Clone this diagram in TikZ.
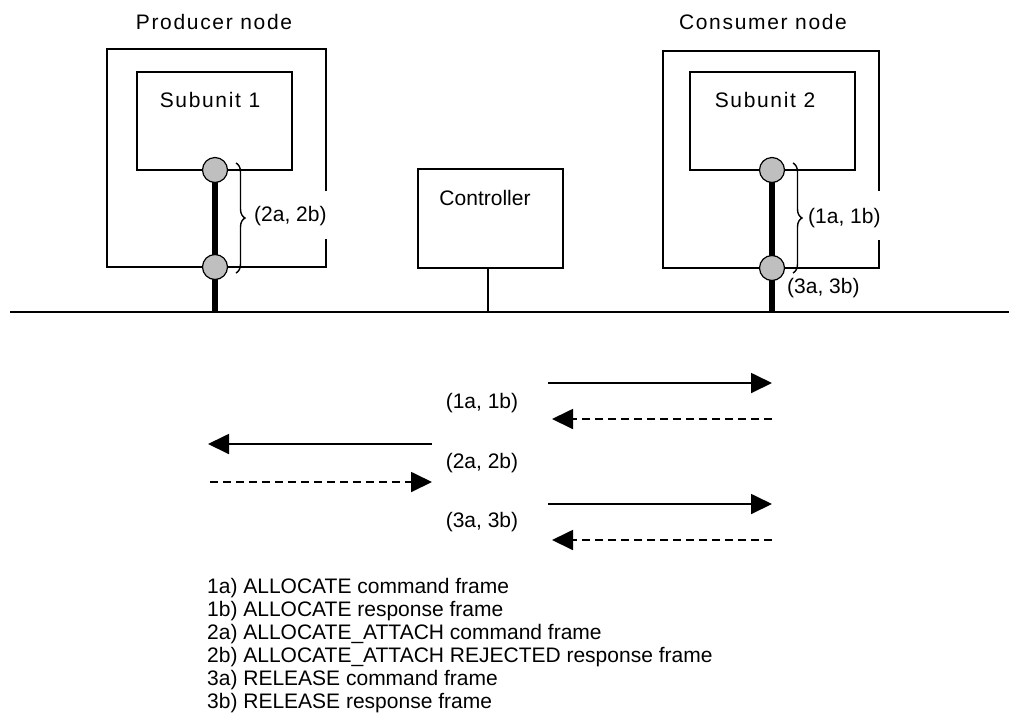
\documentclass[tikz,border=0pt]{standalone}
\usepackage{fontspec}
\setmainfont{Liberation Sans}
\newfontfamily\thinfont[LetterSpace=8]{Liberation Sans}
\usetikzlibrary{arrows.meta,decorations.pathreplacing}
\begin{document}
\begin{tikzpicture}[x=1pt,y=-1pt,
  thin line/.style={line width=1.5pt},
  port/.style={circle,draw,line width=1.2pt,fill=black!25,minimum size=25pt,inner sep=0pt},
  thick conn/.style={line width=6pt},
  title/.style={font=\thinfont\fontsize{21}{24}\selectfont,inner sep=0pt},
  lbl/.style={font=\fontsize{21}{24}\selectfont,inner sep=0pt},
  msg/.style={line width=1.8pt,-{Triangle[length=21pt,width=20pt]}},
  msgd/.style={msg,dash pattern=on 8pt off 5pt},
  brace/.style={decorate,decoration={brace,amplitude=9pt,aspect=0.5},line width=1.4pt}]
\useasboundingbox (0,0) rectangle (1009,721);
% titles
\node[title] (ptitle) at (214,22) {Producer node};
\node[title] (ctitle) at (763,22) {Consumer node};
% outer boxes with gaps on right side
\draw[thin line] (326,191) -- (326,49) -- (107,49) -- (107,267) -- (326,267) -- (326,239);
\draw[thin line] (879,191) -- (879,51) -- (663,51) -- (663,268) -- (879,268) -- (879,240);
% subunits
\node[draw,thin line,minimum width=155pt,minimum height=98pt,inner sep=0pt] (sub1) at (214.5,121) {};
\node[title] (s1) at (210,100) {Subunit 1};
\node[draw,thin line,minimum width=165pt,minimum height=98pt,inner sep=0pt] (sub2) at (772.5,121) {};
\node[title] (s2) at (765,100) {Subunit 2};
% controller
\node[draw,thin line,minimum width=145pt,minimum height=99pt,inner sep=0pt] (ctl) at (490.5,218.5) {};
\node[lbl] (ctltext) at (485,198) {Controller};
% bus
\coordinate (busL) at (10,312);
\coordinate (busR) at (1009,312);
\draw[line width=2pt] (busL) -- (busR);
\coordinate (busP) at (215,312);
\coordinate (busC) at (772,312);
\coordinate (busCtl) at (488,312);
\coordinate (ctlfoot) at (488,268);
\draw[line width=1.6pt] (ctlfoot) -- (busCtl);
% ports
\coordinate (p1c) at (215,170);
\coordinate (p2c) at (215,267);
\coordinate (c1c) at (772,170);
\coordinate (c2c) at (772,268);
\draw[thick conn] (p1c) -- (p2c) -- (busP);
\draw[thick conn] (c1c) -- (c2c) -- (busC);
\node[port] (p1) at (p1c) {};
\node[port] (p2) at (p2c) {};
\node[port] (c1) at (c1c) {};
\node[port] (c2) at (c2c) {};
% braces
\draw[brace] (236,163) -- (236,273);
\node[lbl,anchor=west] (b1) at (254,216) {(2a, 2b)};
\draw[brace] (793,163) -- (793,273);
\node[lbl,anchor=west] (b2) at (808,218) {(1a, 1b)};
\node[lbl,anchor=west] (b3) at (787,288) {(3a, 3b)};
% message arrows
\coordinate (a1s) at (548,383); \coordinate (a1e) at (772,383);
\coordinate (d1s) at (772,419); \coordinate (d1e) at (552,419);
\coordinate (a2s) at (432,444); \coordinate (a2e) at (208,444);
\coordinate (d2s) at (210,482); \coordinate (d2e) at (432,482);
\coordinate (a3s) at (548,504); \coordinate (a3e) at (772,504);
\coordinate (d3s) at (772,540); \coordinate (d3e) at (552,540);
\draw[msg] (a1s) -- (a1e);
\draw[msgd] (d1s) -- (d1e);
\draw[msg] (a2s) -- (a2e);
\draw[msgd] (d2s) -- (d2e);
\draw[msg] (a3s) -- (a3e);
\draw[msgd] (d3s) -- (d3e);
\node[lbl] (l1) at (482,403) {(1a, 1b)};
\node[lbl] (l2) at (482,463) {(2a, 2b)};
\node[lbl] (l3) at (482,522) {(3a, 3b)};
% legend
\node[lbl,anchor=north west,align=left,font=\fontsize{21}{23}\selectfont] (legend) at (207,578) {1a) ALLOCATE command frame\\
1b) ALLOCATE response frame\\
2a) ALLOCATE\_ATTACH command frame\\
2b) ALLOCATE\_ATTACH REJECTED response frame\\
3a) RELEASE command frame\\
3b) RELEASE response frame};
\end{tikzpicture}
\end{document}
